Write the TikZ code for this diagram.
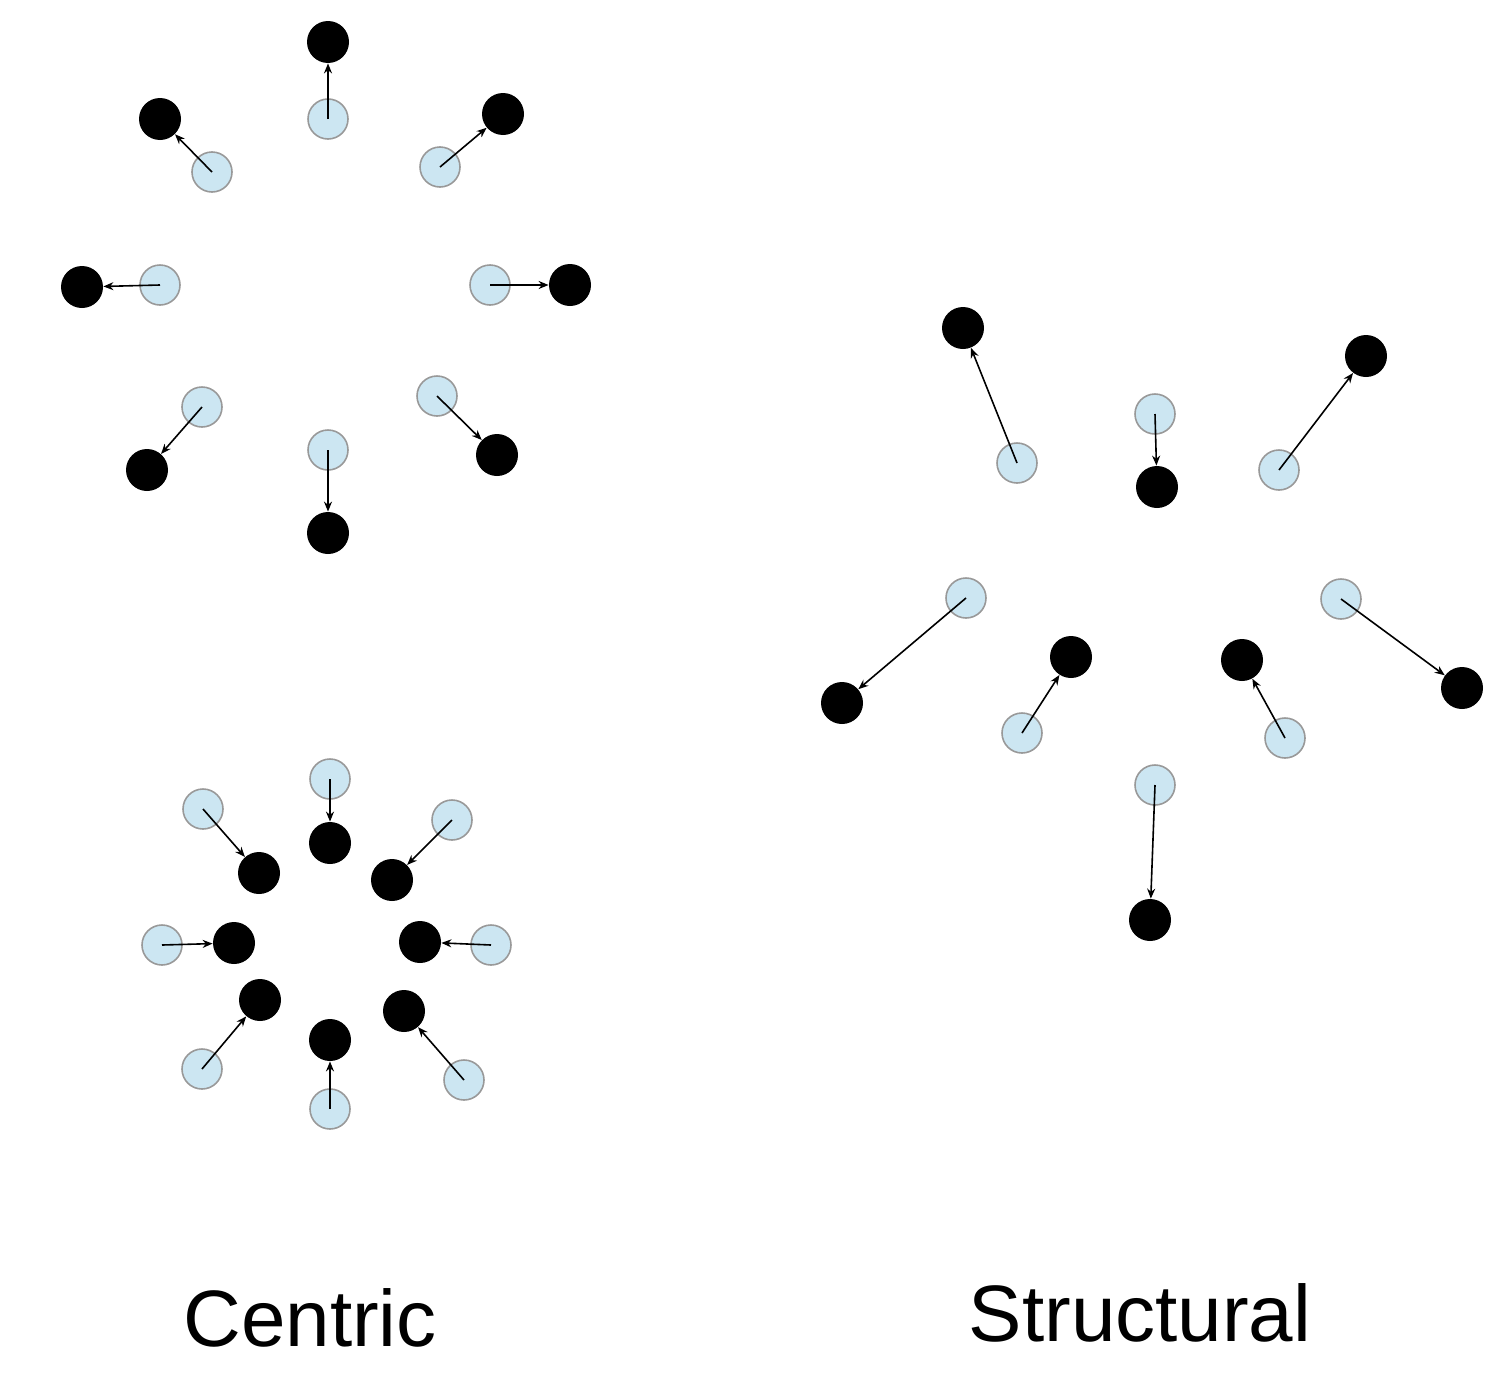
\documentclass[tikz,border=0pt]{standalone}
\usepackage{fontspec}
\setmainfont{Liberation Sans}
\usetikzlibrary{arrows.meta}
\begin{document}
\begin{tikzpicture}[x=0.5pt,y=-0.5pt,
 lt/.style={circle,draw=gray!80,fill={rgb,255:red,204;green,230;blue,242},minimum size=20pt,inner sep=0pt,line width=0.8pt},
 dk/.style={circle,fill=black,minimum size=21pt,inner sep=0pt},
 ar/.style={-{Stealth[length=5pt,width=4pt]},line width=0.8pt}]
\useasboundingbox (0,0) rectangle (1503,1392);
\foreach \i/\ax/\ay/\bx/\by in {
1/328/119/328/42, 2/212/172/160/119, 3/440/167/503/114, 4/160/285/82/287,
5/490/285/570/285, 6/202/407/147/470, 7/437/396/497/455, 8/328/450/328/533,
9/330/779/330/843, 10/203/809/259/873, 11/452/820/392/880, 12/162/945/234/943,
13/491/945/420/942, 14/202/1069/260/1000, 15/464/1080/404/1011, 16/330/1109/330/1040,
17/1017/463/963/328, 18/1155/414/1157/487, 19/1279/470/1366/356, 20/966/598/842/703,
21/1341/599/1462/688, 22/1022/733/1071/657, 23/1285/738/1242/660, 24/1155/785/1150/920}{
 \node[lt] (l\i) at (\ax,\ay) {};
 \node[dk] (d\i) at (\bx,\by) {};
 \draw[ar] (l\i.center) -- (d\i);
}
\node[font=\fontsize{40}{48}\selectfont] (c) at (310,1318) {Centric};
\node[font=\fontsize{40}{48}\selectfont] (s) at (1140,1313) {Structural};
\end{tikzpicture}
\end{document}
